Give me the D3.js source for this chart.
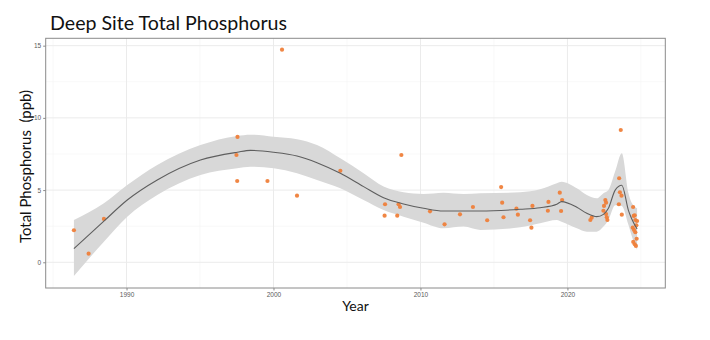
<!DOCTYPE html>
<html><head><meta charset="utf-8">
<script src="https://cdn.jsdelivr.net/npm/d3@7"></script>
<style>body{margin:0;background:#fff}svg{display:block}</style>
</head><body>
<svg id="chart" width="710" height="340"></svg>
<script>
// ---- data ----
const pointYear = [1986.42,1987.42,1988.46,1997.55,1997.48,1997.53,1999.59,2000.58,2001.60,2004.55,
  2008.70,2007.59,2007.56,2008.51,2008.61,2008.42,2010.65,2011.64,2012.69,2013.57,2014.54,
  2015.49,2015.56,2015.65,2016.53,2016.63,2017.46,2017.55,2017.62,2018.67,2018.71,2019.48,2019.64,2019.57,
  2021.56,2021.65,2022.58,2022.63,2022.49,2022.45,2022.63,2022.68,2022.72,
  2023.63,2023.52,2023.57,2023.68,2023.50,2023.70,
  2024.47,2024.51,2024.58,2024.62,2024.74,2024.69,2024.44,2024.53,2024.62,2024.71,2024.48,2024.58,2024.66];
const pointTP = [2.22,0.60,3.00,8.68,7.43,5.63,5.63,14.72,4.61,6.34,
  7.43,4.02,3.23,4.02,3.83,3.23,3.53,2.63,3.32,3.83,2.91,
  5.21,4.13,3.12,3.71,3.30,2.91,2.40,3.90,3.57,4.18,4.82,4.31,3.55,
  2.93,3.09,4.31,4.13,3.90,3.57,3.34,3.12,2.93,
  9.16,5.82,4.85,4.61,4.02,3.30,
  3.83,3.21,3.25,2.93,2.86,2.56,2.40,2.24,2.08,1.63,1.41,1.25,1.13];

const fitYear = [1986.42,1988.46,1990.05,1992.09,1995.03,1997.53,1998.43,2000.01,2001.6,2002.96,2004.55,
  2006.13,2007.49,2008.85,2010.21,2011.57,2012.93,2014.07,2016.78,2018.14,2019.28,2019.6,2020.64,2021.32,
  2022.0,2022.45,2022.79,2023.25,2023.70,2024.15,2024.38,2024.74];
const fitTP = [0.94,2.85,4.31,5.70,7.08,7.62,7.75,7.62,7.36,6.90,6.16,
  5.24,4.47,4.04,3.74,3.55,3.55,3.55,3.67,3.78,4.02,4.20,3.81,3.39,
  3.16,3.32,3.74,5.00,5.33,3.60,3.00,2.30];
const fitLow = [-0.95,1.43,3.16,4.66,6.05,6.51,6.62,6.51,6.16,5.70,5.12,
  4.31,3.62,3.16,2.74,2.35,2.47,2.24,2.42,2.70,2.93,2.81,2.35,2.12,
  2.12,2.47,2.93,3.95,3.90,2.60,1.80,0.85];
const fitHigh = [2.93,4.08,5.35,6.74,8.12,8.75,8.84,8.70,8.52,8.12,7.20,
  6.16,5.24,4.85,4.73,4.82,4.73,4.78,4.85,5.05,5.47,5.58,5.12,4.66,
  4.43,4.78,5.00,6.30,7.55,4.80,4.10,3.75];

const xTicks = [1990,2000,2010,2020];
const xMinor = [1985,1995,2005,2015,2025];
const yTicks = [0,5,10,15];
const yMinor = [2.5,7.5,12.5];
const titleText = "Deep Site Total Phosphorus";
const xTitle = "Year";
const yTitle = "Total Phosphorus  (ppb)";

// ---- layout ----
const svg = d3.select("#chart");
const L = 45.7, R = 665.3, T = 38.3, B = 288;
const x = d3.scaleLinear().domain([1984.50, 2026.66]).range([L, R]);
const y = d3.scaleLinear().domain([-1.78, 15.51]).range([B, T]);

const grid = svg.append("g");
grid.selectAll(".xm").data(xMinor).join("line")
  .attr("x1", d=>x(d)).attr("x2", d=>x(d)).attr("y1", T).attr("y2", B)
  .attr("stroke", "#f4f4f4").attr("stroke-width", 0.6);
grid.selectAll(".ym").data(yMinor).join("line")
  .attr("y1", d=>y(d)).attr("y2", d=>y(d)).attr("x1", L).attr("x2", R)
  .attr("stroke", "#f4f4f4").attr("stroke-width", 0.6);
grid.selectAll(".xM").data(xTicks).join("line")
  .attr("x1", d=>x(d)).attr("x2", d=>x(d)).attr("y1", T).attr("y2", B)
  .attr("stroke", "#ebebeb").attr("stroke-width", 1);
grid.selectAll(".yM").data(yTicks).join("line")
  .attr("y1", d=>y(d)).attr("y2", d=>y(d)).attr("x1", L).attr("x2", R)
  .attr("stroke", "#ebebeb").attr("stroke-width", 1);

const fit = fitYear.map((d,i)=>({yr:d, v:fitTP[i], lo:fitLow[i], hi:fitHigh[i]}));
const pts = pointYear.map((d,i)=>({yr:d, v:pointTP[i]}));

svg.append("path").datum(fit)
  .attr("d", d3.area().curve(d3.curveMonotoneX).x(d=>x(d.yr)).y0(d=>y(d.lo)).y1(d=>y(d.hi)))
  .attr("fill", "#d8d8d8");

svg.append("g").selectAll("circle").data(pts).join("circle")
  .attr("cx", d=>x(d.yr)).attr("cy", d=>y(d.v)).attr("r", 2.1)
  .attr("fill", "#ef7f3a").attr("fill-opacity", 0.95);

svg.append("path").datum(fit)
  .attr("d", d3.line().curve(d3.curveMonotoneX).x(d=>x(d.yr)).y(d=>y(d.v)))
  .attr("fill", "none").attr("stroke", "#5e5e5e").attr("stroke-width", 1.1);

svg.append("rect").attr("x", L).attr("y", T).attr("width", R-L).attr("height", B-T)
  .attr("fill", "none").attr("stroke", "#8a8a8a").attr("stroke-width", 1);

// axes
const xa = svg.append("g").attr("transform", `translate(0,${B})`)
  .call(d3.axisBottom(x).tickValues(xTicks).tickFormat(d3.format("d")).tickSize(2.5).tickPadding(2));
const ya = svg.append("g").attr("transform", `translate(${L},0)`)
  .call(d3.axisLeft(y).tickValues(yTicks).tickSize(2.5).tickPadding(2));
[xa, ya].forEach(a => {
  a.select(".domain").remove();
  a.selectAll(".tick line").attr("stroke", "#8a8a8a");
  a.selectAll(".tick text").attr("fill", "#5a5a5a")
    .style("font-family", "'Liberation Sans', Arial, sans-serif").style("font-size", "6.5px");
});

// titles
const tt = svg.append("text").attr("x", 50).attr("y", 30).text(titleText)
  .style("font-family", "Lato, sans-serif").style("font-size", "21px").attr("fill", "#111");
const tw = tt.node().getComputedTextLength();
tt.style("font-size", (21*237/tw).toFixed(2)+"px");

svg.append("text").attr("x", 355.5).attr("y", 311).attr("text-anchor", "middle").text(xTitle)
  .style("font-family", "Lato, sans-serif").style("font-size", "14px").attr("fill", "#111");

const yt = svg.append("text").attr("transform", "translate(31,166.5) rotate(-90)")
  .attr("text-anchor", "middle").text(yTitle)
  .style("font-family", "Lato, sans-serif").style("font-size", "15px").attr("fill", "#111")
  .attr("xml:space", "preserve").style("white-space", "pre");
const yw = yt.node().getComputedTextLength();
yt.style("font-size", (15*153/yw).toFixed(2)+"px");
</script>
</body></html>
